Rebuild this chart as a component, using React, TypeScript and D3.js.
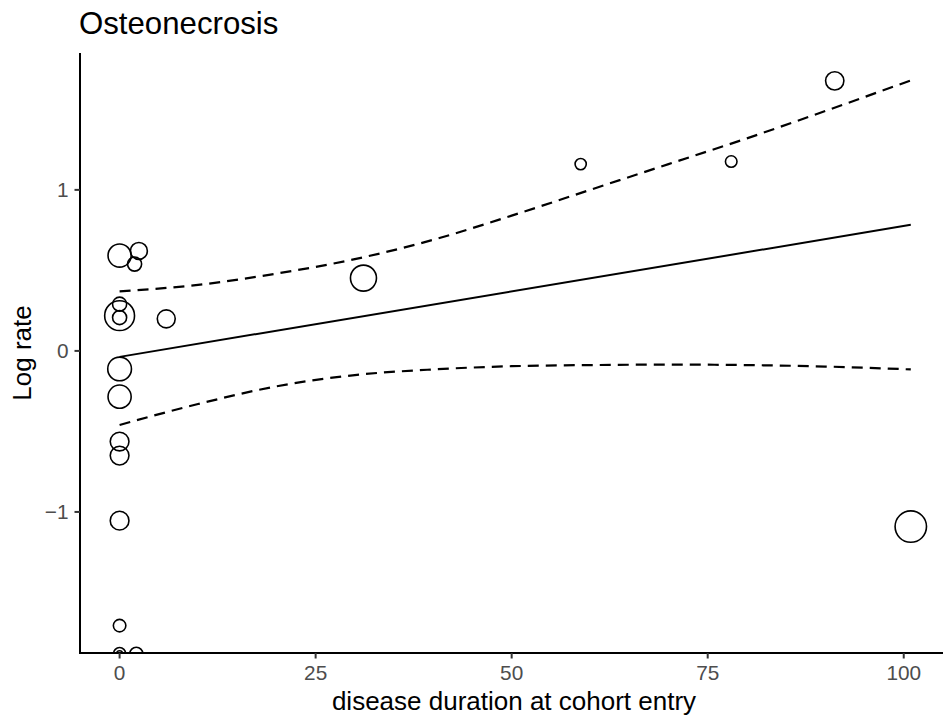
import React from "react";
import * as d3 from "d3";

const studyX = [0, 2.46, 1.91, 0, 0, 0, 5.95, 0, 0, 0, 0, 0, 0, 0, 0, 2.13, 31.1, 58.8, 78.0, 91.2, 100.9];
const logRate = [0.592, 0.621, 0.539, 0.219, 0.207, 0.29, 0.199, -0.112, -0.284, -0.563, -0.65, -1.054, -1.706, -1.88, -1.88, -1.88, 0.452, 1.16, 1.176, 1.677, -1.091];
const weight = [52.9, 28.4, 19.6, 88.2, 19.6, 19.6, 31.8, 55.6, 52.9, 34.6, 34.6, 34.6, 15.5, 14.6, 3.3, 16.5, 66.9, 12.4, 13.2, 33.1, 97.6];

const fitX = [0, 100.9];
const fitY = [-0.037, 0.783];

const bandX = [0, 10, 20, 30, 40, 50, 60, 70, 80, 90, 100.9];
const upperY = [0.37, 0.41, 0.48, 0.57, 0.69, 0.84, 1.0, 1.16, 1.32, 1.49, 1.68];
const lowerY = [-0.46, -0.33, -0.22, -0.15, -0.115, -0.095, -0.088, -0.085, -0.088, -0.097, -0.115];

const xTicks = [0, 25, 50, 75, 100];
const yTicks = [-1, 0, 1];

const W = 943;
const H = 721;
const left = 80;
const top = 53;
const bottom = 653;
const rightEdge = 950;

export default function App() {
  const x = d3.scaleLinear().domain([-5.05, 105.9]).range([left, rightEdge]);
  const y = d3.scaleLinear().domain([-1.876, 1.85]).range([bottom, top]);
  const r = d3.scaleSqrt().domain([0, 100]).range([0, 15.9]);

  const line = d3
    .line<[number, number]>()
    .x((d) => x(d[0]))
    .y((d) => y(d[1]));
  const curve = d3
    .line<[number, number]>()
    .x((d) => x(d[0]))
    .y((d) => y(d[1]))
    .curve(d3.curveMonotoneX);

  const fitPts = fitX.map((v, i) => [v, fitY[i]] as [number, number]);
  const upPts = bandX.map((v, i) => [v, upperY[i]] as [number, number]);
  const loPts = bandX.map((v, i) => [v, lowerY[i]] as [number, number]);

  const pts = studyX
    .map((v, i) => ({ x: v, y: logRate[i], w: weight[i] }))
    .sort((a, b) => b.w - a.w);

  const font = "'Liberation Sans', Arial, Helvetica, sans-serif";

  return (
    <svg
      width={W}
      height={H}
      style={{ position: "absolute", left: 0, top: 0, background: "#fff" }}
      fontFamily={font}
    >
      <defs>
        <clipPath id="panel">
          <rect x={left} y={top} width={rightEdge - left} height={bottom - top} />
        </clipPath>
      </defs>
      <rect x={0} y={0} width={W} height={H} fill="#fff" />
      <g clipPath="url(#panel)">
        {pts.map((p, i) => (
          <circle
            key={i}
            cx={x(p.x)}
            cy={y(p.y)}
            r={r(p.w)}
            fill="none"
            stroke="#000"
            strokeWidth={1.6}
          />
        ))}
        <path d={line(fitPts) || ""} fill="none" stroke="#000" strokeWidth={2} />
        <path d={curve(upPts) || ""} fill="none" stroke="#000" strokeWidth={2.2} strokeDasharray="11,7" />
        <path d={curve(loPts) || ""} fill="none" stroke="#000" strokeWidth={2.2} strokeDasharray="11,7" />
      </g>
      {/* axes */}
      <line x1={left} x2={left} y1={top} y2={bottom + 1} stroke="#000" strokeWidth={2} />
      <line x1={left - 1} x2={W} y1={bottom} y2={bottom} stroke="#000" strokeWidth={2} />
      {xTicks.map((t) => (
        <g key={"x" + t}>
          <line x1={x(t)} x2={x(t)} y1={bottom} y2={bottom + 5.5} stroke="#333" strokeWidth={2} />
          <text x={x(t)} y={680} textAnchor="middle" fontSize={20.8} fill="#4D4D4D">
            {t}
          </text>
        </g>
      ))}
      {yTicks.map((t) => (
        <g key={"y" + t}>
          <line x1={left - 5.5} x2={left} y1={y(t)} y2={y(t)} stroke="#333" strokeWidth={2} />
          <text x={68.5} y={y(t)} dy="0.36em" textAnchor="end" fontSize={20.8} fill="#4D4D4D">
            {t < 0 ? "\u2212" + Math.abs(t) : t}
          </text>
        </g>
      ))}
      <text x={514} y={710} textAnchor="middle" fontSize={26} fill="#000">
        disease duration at cohort entry
      </text>
      <text
        transform={`translate(31, ${(top + bottom) / 2}) rotate(-90)`}
        textAnchor="middle"
        fontSize={26}
        fill="#000"
      >
        Log rate
      </text>
      <text x={79} y={34.3} fontSize={31.2} fill="#000">
        Osteonecrosis
      </text>
    </svg>
  );
}
